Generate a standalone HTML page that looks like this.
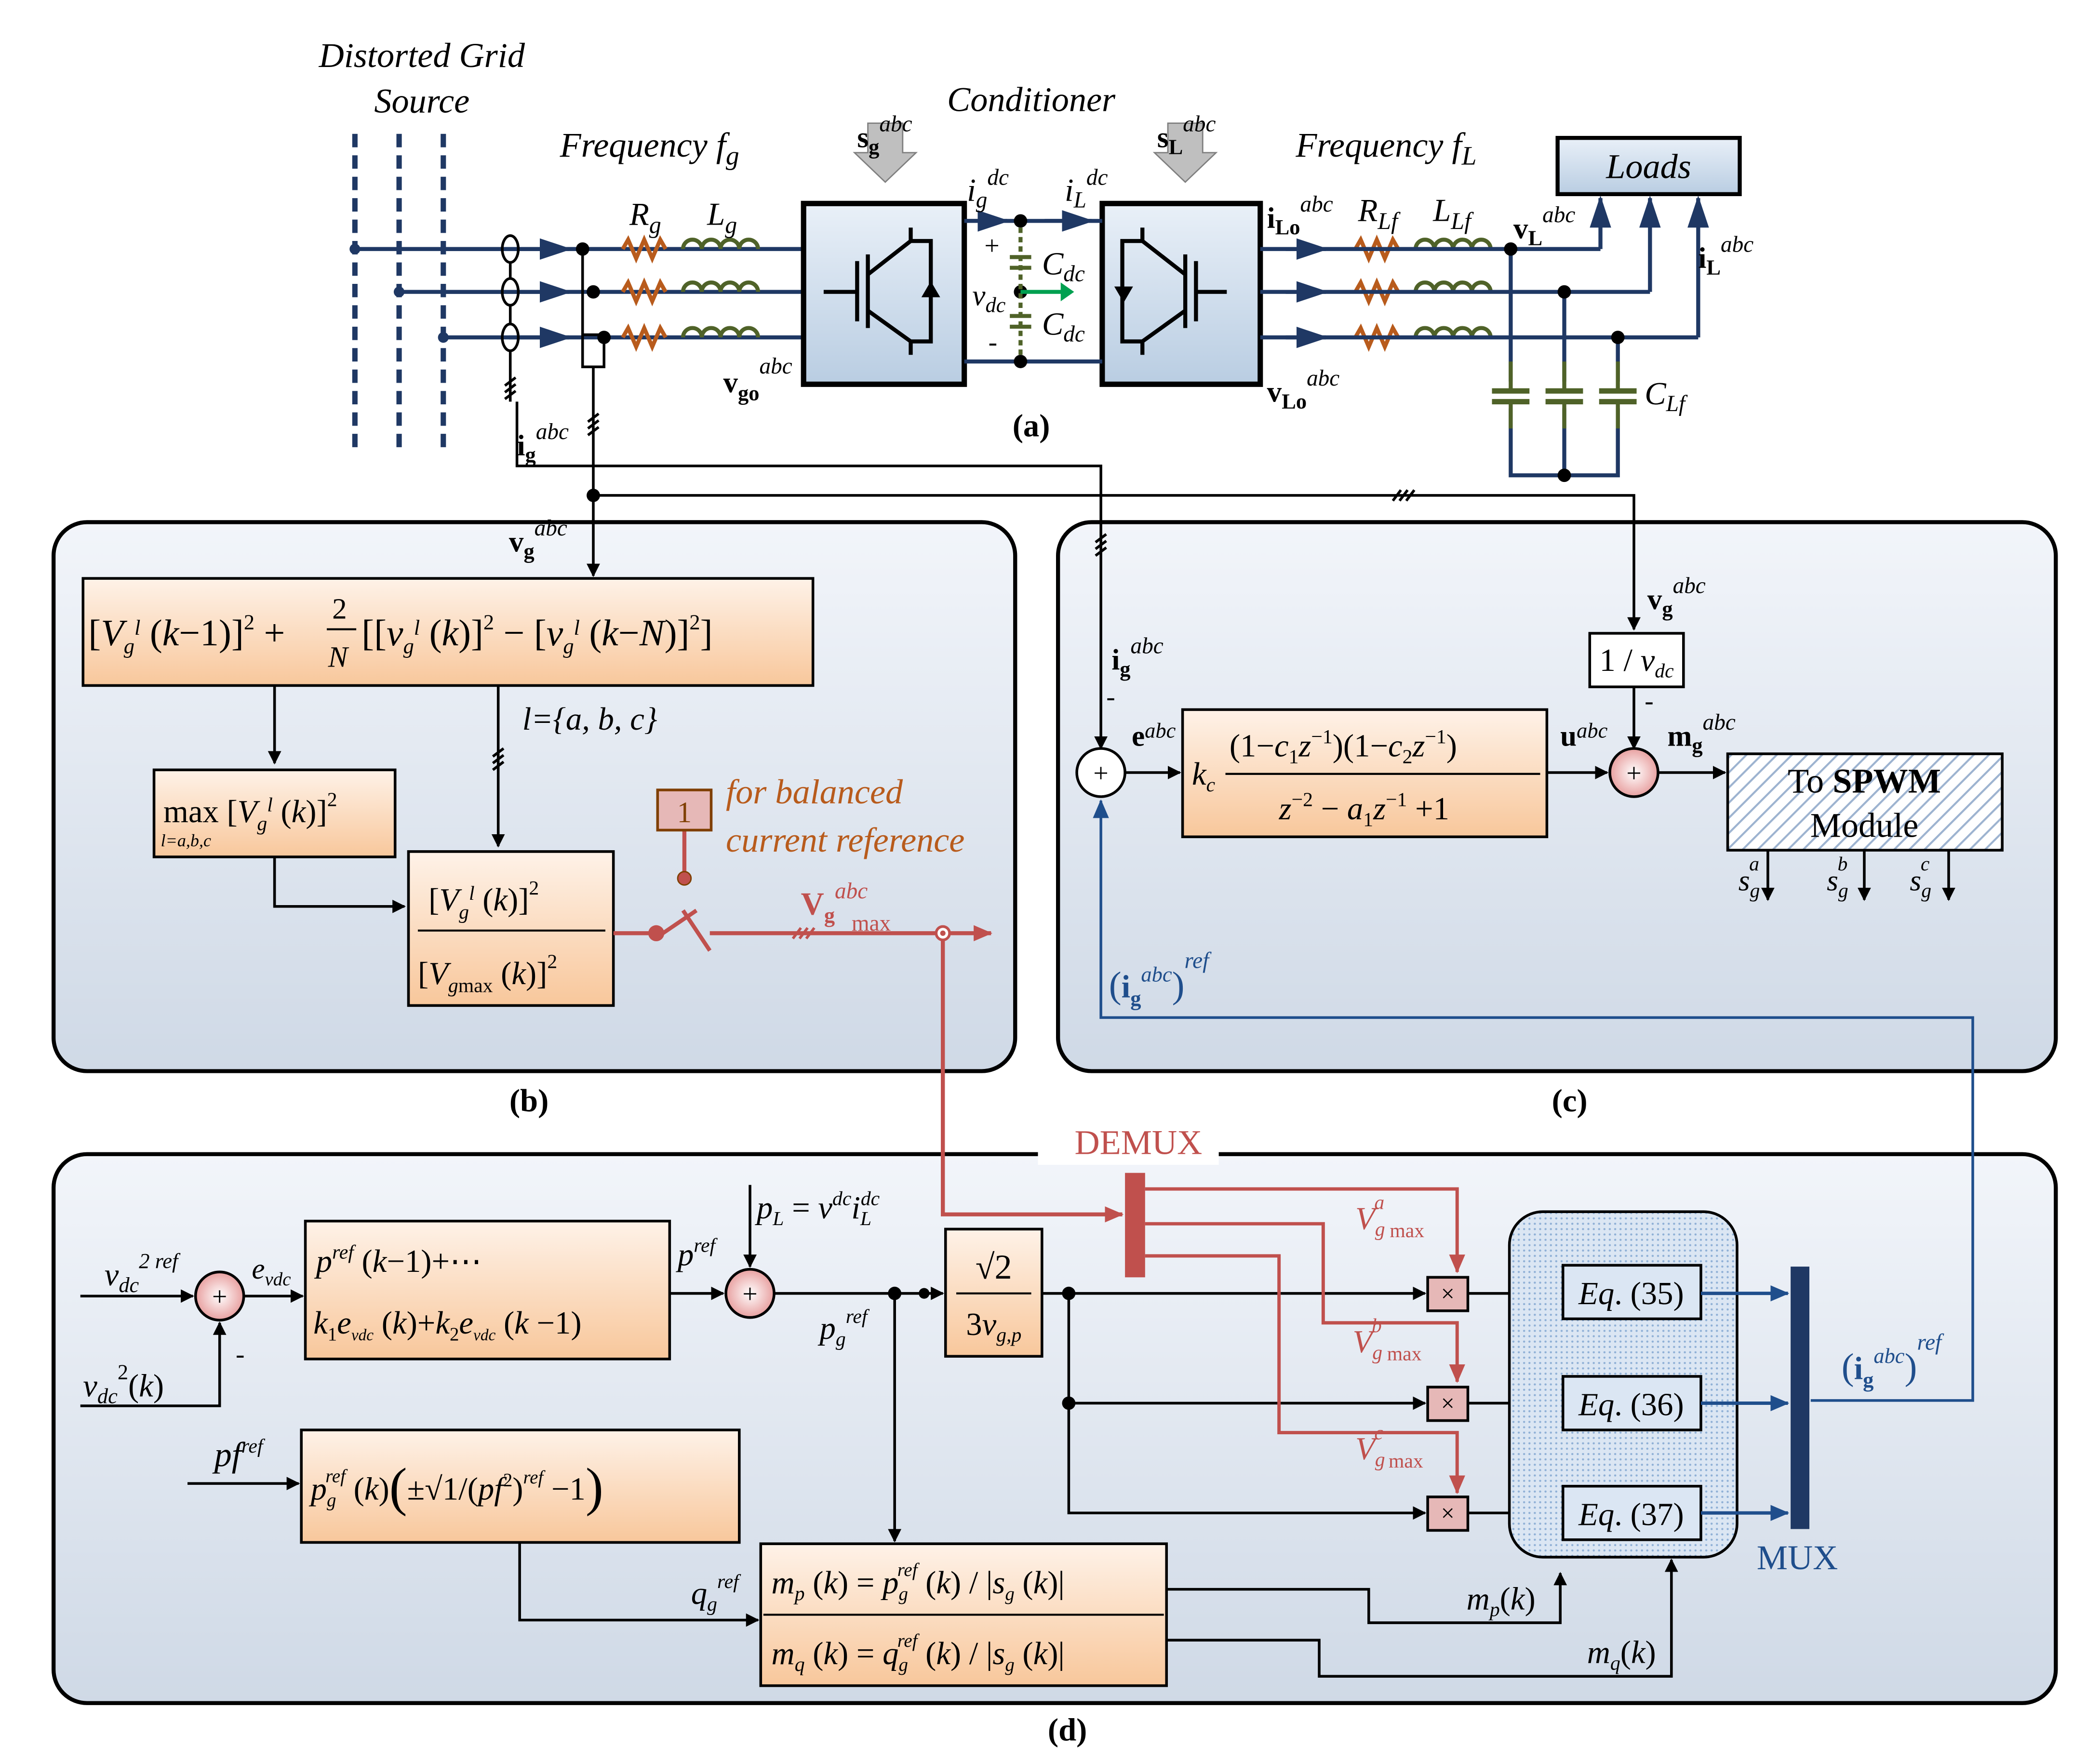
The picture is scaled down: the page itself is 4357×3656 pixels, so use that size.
<!DOCTYPE html>
<html><head><meta charset="utf-8"><style>
html,body{margin:0;padding:0;background:#fff}
svg{display:block}
text{font-family:"Liberation Serif",serif}
.i{font-style:italic}
</style></head><body>
<svg width="4357" height="3656" viewBox="0 0 1568 1316" preserveAspectRatio="none" xmlns="http://www.w3.org/2000/svg">
<defs>
<linearGradient id="pg" x1="0" y1="0" x2="0" y2="1"><stop offset="0" stop-color="#f2f5fa"/><stop offset="1" stop-color="#cfd9e6"/></linearGradient>
<linearGradient id="og" x1="0" y1="0" x2="0" y2="1"><stop offset="0" stop-color="#fef2e8"/><stop offset="1" stop-color="#f8c79b"/></linearGradient>
<linearGradient id="bg" x1="0" y1="0" x2="0" y2="1"><stop offset="0" stop-color="#e9f0f8"/><stop offset="1" stop-color="#b9cde2"/></linearGradient>
<radialGradient id="sg"><stop offset="0" stop-color="#fff"/><stop offset="1" stop-color="#e8a0a0"/></radialGradient>
<pattern id="hatch" width="8" height="8" patternUnits="userSpaceOnUse" patternTransform="rotate(45)"><rect width="8" height="8" fill="#fff"/><line x1="0" y1="0" x2="0" y2="8" stroke="#9db3d0" stroke-width="3"/></pattern>
<pattern id="dots" width="4" height="4" patternUnits="userSpaceOnUse"><rect width="4" height="4" fill="#dbe6f3"/><circle cx="2" cy="2" r="0.8" fill="#8fb0d6"/></pattern>
<marker id="a" markerWidth="10" markerHeight="10" refX="9" refY="5" orient="auto" markerUnits="userSpaceOnUse"><path d="M0,0 L10,5 L0,10z" fill="#000"/></marker>
<marker id="ar" markerWidth="14" markerHeight="12" refX="13" refY="6" orient="auto" markerUnits="userSpaceOnUse"><path d="M0,0 L14,6 L0,12z" fill="#c0504d"/></marker>
<marker id="ab" markerWidth="14" markerHeight="12" refX="13" refY="6" orient="auto" markerUnits="userSpaceOnUse"><path d="M0,0 L14,6 L0,12z" fill="#1f4e8c"/></marker>
<marker id="an" markerWidth="24" markerHeight="16" refX="22" refY="8" orient="auto" markerUnits="userSpaceOnUse"><path d="M0,0 L24,8 L0,16z" fill="#1f3864"/></marker>
</defs>

<rect x="40" y="390" width="718" height="410" rx="25" fill="url(#pg)" stroke="#000" stroke-width="3"/>
<rect x="790" y="390" width="745" height="410" rx="25" fill="url(#pg)" stroke="#000" stroke-width="3"/>
<rect x="40" y="862" width="1495" height="410" rx="25" fill="url(#pg)" stroke="#000" stroke-width="3"/>

<text x="315" y="50" font-size="26" class="i" text-anchor="middle">Distorted Grid</text>
<text x="315" y="84" font-size="26" class="i" text-anchor="middle">Source</text>
<text x="485" y="117" font-size="26" class="i" text-anchor="middle">Frequency f<tspan font-size="20" dy="6">g</tspan></text>
<text x="770" y="83" font-size="26" class="i" text-anchor="middle">Conditioner</text>
<text x="1035" y="117" font-size="26" class="i" text-anchor="middle">Frequency f<tspan font-size="20" dy="6">L</tspan></text>
<text x="770" y="326" font-size="24" font-weight="bold" text-anchor="middle">(a)</text>

<g stroke="#1f3864" stroke-width="4" stroke-dasharray="10,6">
<line x1="265" y1="100" x2="265" y2="340"/><line x1="298" y1="100" x2="298" y2="340"/><line x1="331" y1="100" x2="331" y2="340"/>
</g>
<g stroke="#1f3864" stroke-width="3" fill="none">
<line x1="265" y1="186" x2="600" y2="186"/>
<line x1="298" y1="218" x2="600" y2="218"/>
<line x1="331" y1="252" x2="600" y2="252"/>
<line x1="330" y1="186" x2="425" y2="186" marker-end="url(#an)"/>
<line x1="330" y1="218" x2="425" y2="218" marker-end="url(#an)"/>
<line x1="380" y1="252" x2="425" y2="252" marker-end="url(#an)"/>
</g>
<g fill="#1f3864"><circle cx="265" cy="186" r="4"/><circle cx="298" cy="218" r="4"/><circle cx="331" cy="252" r="4"/></g>
<g fill="none" stroke="#000" stroke-width="2"><ellipse cx="381" cy="186" rx="6" ry="10"/><ellipse cx="381" cy="218" rx="6" ry="10"/><ellipse cx="381" cy="252" rx="6" ry="10"/>
<line x1="381" y1="196" x2="381" y2="208"/><line x1="381" y1="228" x2="381" y2="242"/><line x1="381" y1="262" x2="381" y2="300"/></g>
<g fill="#000"><circle cx="435" cy="186" r="5"/><circle cx="443" cy="218" r="5"/><circle cx="451" cy="252" r="5"/></g>
<rect x="435" y="250" width="16" height="24" fill="none" stroke="#000" stroke-width="2"/>
<line x1="435" y1="186" x2="435" y2="250" stroke="#000" stroke-width="2"/>
<line x1="443" y1="274" x2="443" y2="370" stroke="#000" stroke-width="2"/>
<g fill="none" stroke="#b85b1c" stroke-width="3">
<path d="M465,186 l4,-7 l6,14 l6,-14 l6,14 l6,-14 l4,7"/>
<path d="M465,218 l4,-7 l6,14 l6,-14 l6,14 l6,-14 l4,7"/>
<path d="M465,252 l4,-7 l6,14 l6,-14 l6,14 l6,-14 l4,7"/>
<path d="M1012,186 l4,-7 l6,14 l6,-14 l6,14 l6,-14 l4,7"/>
<path d="M1012,218 l4,-7 l6,14 l6,-14 l6,14 l6,-14 l4,7"/>
<path d="M1012,252 l4,-7 l6,14 l6,-14 l6,14 l6,-14 l4,7"/>
</g>
<g fill="none" stroke="#4f6228" stroke-width="3">
<path d="M510,186 a7,7 0 0 1 14,0 a7,7 0 0 1 14,0 a7,7 0 0 1 14,0 a7,7 0 0 1 14,0"/>
<path d="M510,218 a7,7 0 0 1 14,0 a7,7 0 0 1 14,0 a7,7 0 0 1 14,0 a7,7 0 0 1 14,0"/>
<path d="M510,252 a7,7 0 0 1 14,0 a7,7 0 0 1 14,0 a7,7 0 0 1 14,0 a7,7 0 0 1 14,0"/>
<path d="M1057,186 a7,7 0 0 1 14,0 a7,7 0 0 1 14,0 a7,7 0 0 1 14,0 a7,7 0 0 1 14,0"/>
<path d="M1057,218 a7,7 0 0 1 14,0 a7,7 0 0 1 14,0 a7,7 0 0 1 14,0 a7,7 0 0 1 14,0"/>
<path d="M1057,252 a7,7 0 0 1 14,0 a7,7 0 0 1 14,0 a7,7 0 0 1 14,0 a7,7 0 0 1 14,0"/>
</g>
<text x="470" y="168" font-size="24" class="i">R<tspan font-size="18" dy="6">g</tspan></text>
<text x="528" y="168" font-size="24" class="i">L<tspan font-size="18" dy="6">g</tspan></text>
<text x="1014" y="165" font-size="24" class="i">R<tspan font-size="18" dy="6">Lf</tspan></text>
<text x="1070" y="165" font-size="24" class="i">L<tspan font-size="18" dy="6">Lf</tspan></text>
<text x="540" y="293" font-size="22" font-weight="bold">v<tspan font-size="16" dy="6">go</tspan><tspan font-size="17" font-weight="normal" class="i" dy="-20">abc</tspan></text>
<rect x="600" y="152" width="120" height="135" fill="url(#bg)" stroke="#000" stroke-width="4"/>
<rect x="823" y="152" width="118" height="135" fill="url(#bg)" stroke="#000" stroke-width="4"/>
<g stroke="#000" stroke-width="3" fill="none">
<line x1="615" y1="218" x2="640" y2="218"/><line x1="640" y1="195" x2="640" y2="240"/><line x1="648" y1="190" x2="648" y2="245"/>
<path d="M648,205 L680,180 L680,170 M648,232 L680,255 L680,265 M680,180 L695,180 L695,255 L680,255"/>
<line x1="916" y1="218" x2="893" y2="218"/><line x1="893" y1="195" x2="893" y2="240"/><line x1="885" y1="190" x2="885" y2="245"/>
<path d="M885,205 L853,180 L853,170 M885,232 L853,255 L853,265 M853,180 L838,180 L838,255 L853,255"/>
</g>
<path d="M688,222 L702,222 L695,210z M832,214 L846,214 L839,226z" fill="#000"/>
<path d="M648,92 h26 v22 h10 l-23,22 l-23,-22 h10z" fill="#bfbfbf" stroke="#7f7f7f"/>
<path d="M872,92 h26 v22 h10 l-23,22 l-23,-22 h10z" fill="#bfbfbf" stroke="#7f7f7f"/>
<text x="640" y="110" font-size="22" font-weight="bold">s<tspan font-size="16" dy="5">g</tspan><tspan font-size="17" font-weight="normal" class="i" dy="-17">abc</tspan></text>
<text x="864" y="110" font-size="22" font-weight="bold">s<tspan font-size="16" dy="5">L</tspan><tspan font-size="17" font-weight="normal" class="i" dy="-17">abc</tspan></text>
<g stroke="#1f3864" stroke-width="3">
<line x1="720" y1="165" x2="823" y2="165"/><line x1="720" y1="270" x2="823" y2="270"/>
<line x1="722" y1="165" x2="752" y2="165" marker-end="url(#an)"/><line x1="780" y1="165" x2="815" y2="165" marker-end="url(#an)"/>
</g>
<g fill="#000"><circle cx="762" cy="165" r="5"/><circle cx="762" cy="270" r="5"/><circle cx="762" cy="218" r="5"/></g>
<g stroke="#4f6228" stroke-width="3" stroke-dasharray="4,3"><line x1="762" y1="170" x2="762" y2="265"/></g>
<g stroke="#4f6228" stroke-width="3"><line x1="754" y1="192" x2="770" y2="192"/><line x1="754" y1="200" x2="770" y2="200"/><line x1="754" y1="236" x2="770" y2="236"/><line x1="754" y1="244" x2="770" y2="244"/></g>
<line x1="762" y1="218" x2="795" y2="218" stroke="#00a050" stroke-width="3"/><path d="M792,211 l10,7 l-10,7z" fill="#00a050"/>
<text x="722" y="150" font-size="24" class="i">i<tspan font-size="17" dy="5">g</tspan><tspan font-size="17" dy="-17">dc</tspan></text>
<text x="795" y="150" font-size="24" class="i">i<tspan font-size="17" dy="5">L</tspan><tspan font-size="17" dy="-17">dc</tspan></text>
<text x="735" y="190" font-size="20">+</text><text x="738" y="262" font-size="20">-</text>
<text x="726" y="228" font-size="22" class="i">v<tspan font-size="16" dy="5">dc</tspan></text>
<text x="778" y="205" font-size="24" class="i">C<tspan font-size="17" dy="5">dc</tspan></text>
<text x="778" y="250" font-size="24" class="i">C<tspan font-size="17" dy="5">dc</tspan></text>
<g stroke="#1f3864" stroke-width="3" fill="none">
<line x1="941" y1="186" x2="1195" y2="186"/><line x1="941" y1="218" x2="1232" y2="218"/><line x1="941" y1="252" x2="1268" y2="252"/>
<line x1="960" y1="186" x2="990" y2="186" marker-end="url(#an)"/><line x1="960" y1="218" x2="990" y2="218" marker-end="url(#an)"/><line x1="960" y1="252" x2="990" y2="252" marker-end="url(#an)"/>
<path d="M1195,186 V148" marker-end="url(#an)"/><path d="M1232,218 V148" marker-end="url(#an)"/><path d="M1268,252 V148" marker-end="url(#an)"/>
<line x1="1128" y1="186" x2="1128" y2="285"/><line x1="1168" y1="218" x2="1168" y2="285"/><line x1="1208" y1="252" x2="1208" y2="285"/>
<path d="M1128,305 V355 H1208 V305 M1168,305 V355"/>
</g>
<g fill="#000"><circle cx="1128" cy="186" r="5"/><circle cx="1168" cy="218" r="5"/><circle cx="1208" cy="252" r="5"/><circle cx="1168" cy="355" r="5"/></g>
<g stroke="#4f6228" stroke-width="4"><line x1="1114" y1="292" x2="1142" y2="292"/><line x1="1114" y1="300" x2="1142" y2="300"/><line x1="1154" y1="292" x2="1182" y2="292"/><line x1="1154" y1="300" x2="1182" y2="300"/><line x1="1194" y1="292" x2="1222" y2="292"/><line x1="1194" y1="300" x2="1222" y2="300"/></g>
<g stroke="#4f6228" stroke-width="3"><line x1="1128" y1="270" x2="1128" y2="292"/><line x1="1168" y1="270" x2="1168" y2="292"/><line x1="1208" y1="270" x2="1208" y2="292"/><line x1="1128" y1="300" x2="1128" y2="320"/><line x1="1168" y1="300" x2="1168" y2="320"/><line x1="1208" y1="300" x2="1208" y2="320"/></g>
<text x="1228" y="302" font-size="24" class="i">C<tspan font-size="17" dy="5">Lf</tspan></text>
<rect x="1163" y="103" width="136" height="42" fill="url(#bg)" stroke="#000" stroke-width="3"/>
<text x="1231" y="133" font-size="26" class="i" text-anchor="middle">Loads</text>
<text x="946" y="170" font-size="22" font-weight="bold">i<tspan font-size="16" dy="5">Lo</tspan><tspan font-size="17" font-weight="normal" class="i" dy="-17">abc</tspan></text>
<text x="946" y="300" font-size="22" font-weight="bold">v<tspan font-size="16" dy="5">Lo</tspan><tspan font-size="17" font-weight="normal" class="i" dy="-17">abc</tspan></text>
<text x="1130" y="178" font-size="22" font-weight="bold">v<tspan font-size="16" dy="5">L</tspan><tspan font-size="17" font-weight="normal" class="i" dy="-17">abc</tspan></text>
<text x="1268" y="200" font-size="22" font-weight="bold">i<tspan font-size="16" dy="5">L</tspan><tspan font-size="17" font-weight="normal" class="i" dy="-17">abc</tspan></text>
<text x="386" y="340" font-size="22" font-weight="bold">i<tspan font-size="16" dy="5">g</tspan><tspan font-size="17" font-weight="normal" class="i" dy="-17">abc</tspan></text>

<g stroke="#000" stroke-width="2" fill="none">
<path d="M386,300 V348 H822 V559" marker-end="url(#a)"/>
<path d="M443,370 H1220 V470" marker-end="url(#a)"/>
<path d="M443,370 V430" marker-end="url(#a)"/>
<path d="M1220,513 V559" marker-end="url(#a)"/>
</g>
<circle cx="443" cy="370" r="5"/>
<g stroke="#000" stroke-width="2"><path d="M377,298 l8,-6 M377,293 l8,-6 M377,288 l8,-6"/><path d="M439,325 l8,-6 M439,320 l8,-6 M439,315 l8,-6"/><path d="M818,415 l8,-6 M818,410 l8,-6 M818,405 l8,-6"/><path d="M1040,374 l6,-8 M1045,374 l6,-8 M1050,374 l6,-8"/></g>

<!-- (b) -->
<text x="380" y="412" font-size="22" font-weight="bold">v<tspan font-size="16" dy="5">g</tspan><tspan font-size="17" font-weight="normal" class="i" dy="-17">abc</tspan></text>
<rect x="62" y="432" width="545" height="80" fill="url(#og)" stroke="#000" stroke-width="2"/>
<text x="66" y="482" font-size="28">[<tspan class="i">V</tspan><tspan font-size="16" class="i" dy="6">g</tspan><tspan font-size="16" class="i" dy="-14">l</tspan><tspan dy="8"> (</tspan><tspan class="i">k</tspan>−1)]<tspan font-size="16" dy="-12">2</tspan><tspan dy="12"> +</tspan></text>
<text x="248" y="462" font-size="22">2</text>
<line x1="244" y1="470" x2="266" y2="470" stroke="#000" stroke-width="1.5"/>
<text x="245" y="498" font-size="22" class="i">N</text>
<text x="270" y="482" font-size="28">[[<tspan class="i">v</tspan><tspan font-size="16" class="i" dy="6">g</tspan><tspan font-size="16" class="i" dy="-14">l</tspan><tspan dy="8"> (</tspan><tspan class="i">k</tspan>)]<tspan font-size="16" dy="-12">2</tspan><tspan dy="12"> − [</tspan><tspan class="i">v</tspan><tspan font-size="16" class="i" dy="6">g</tspan><tspan font-size="16" class="i" dy="-14">l</tspan><tspan dy="8"> (</tspan><tspan class="i">k</tspan>−<tspan class="i">N</tspan>)]<tspan font-size="16" dy="-12">2</tspan><tspan dy="12">]</tspan></text>
<g stroke="#000" stroke-width="2" fill="none">
<path d="M205,512 V570" marker-end="url(#a)"/>
<path d="M372,512 V632" marker-end="url(#a)"/>
<path d="M205,640 V677 H302" marker-end="url(#a)"/>
<path d="M368,575 l8,-6 M368,570 l8,-6 M368,565 l8,-6"/>
</g>
<text x="390" y="545" font-size="24" class="i">l={a, b, c}</text>
<rect x="115" y="575" width="180" height="65" fill="url(#og)" stroke="#000" stroke-width="2"/>
<text x="122" y="614" font-size="24">max [<tspan class="i">V</tspan><tspan font-size="15" class="i" dy="6">g</tspan><tspan font-size="15" class="i" dy="-14">l</tspan><tspan dy="8"> (</tspan><tspan class="i">k</tspan>)]<tspan font-size="15" dy="-12">2</tspan></text>
<text x="120" y="632" font-size="13" class="i">l=a,b,c</text>
<rect x="305" y="636" width="153" height="115" fill="url(#og)" stroke="#000" stroke-width="2"/>
<text x="320" y="680" font-size="24">[<tspan class="i">V</tspan><tspan font-size="15" class="i" dy="6">g</tspan><tspan font-size="15" class="i" dy="-14">l</tspan><tspan dy="8"> (</tspan><tspan class="i">k</tspan>)]<tspan font-size="15" dy="-12">2</tspan></text>
<line x1="312" y1="695" x2="452" y2="695" stroke="#000" stroke-width="1.5"/>
<text x="312" y="735" font-size="24">[<tspan class="i">V</tspan><tspan font-size="15" class="i" dy="6">g</tspan><tspan font-size="15" dy="0">max</tspan><tspan dy="-6"> (</tspan><tspan class="i">k</tspan>)]<tspan font-size="15" dy="-12">2</tspan></text>
<g stroke="#c0504d" stroke-width="3" fill="none">
<line x1="458" y1="697" x2="490" y2="697"/>
<path d="M495,697 L520,680 M510,680 L530,710"/>
<line x1="530" y1="697" x2="740" y2="697" marker-end="url(#ar)"/>
<line x1="511" y1="620" x2="511" y2="656"/>
<path d="M704,697 V907 H838" marker-end="url(#ar)"/>
<path d="M592,701 l6,-8 M597,701 l6,-8 M602,701 l6,-8" stroke-width="2"/>
</g>
<circle cx="490" cy="697" r="6" fill="#c0504d"/><circle cx="704" cy="697" r="5" fill="#fff" stroke="#c0504d" stroke-width="2"/><circle cx="704" cy="697" r="2" fill="#c0504d"/>
<circle cx="511" cy="656" r="5" fill="#c0504d" stroke="#7f3f00"/>
<rect x="491" y="590" width="40" height="30" fill="#e6b8b7" stroke="#7f3f00" stroke-width="2"/>
<text x="511" y="614" font-size="22" text-anchor="middle" fill="#7f3f00">1</text>
<text x="542" y="600" font-size="26" class="i" fill="#b85b1c">for balanced</text>
<text x="542" y="636" font-size="26" class="i" fill="#b85b1c">current reference</text>
<text x="598" y="683" font-size="24" font-weight="bold" fill="#c0504d">V<tspan font-size="16" dy="6">g</tspan><tspan font-size="17" font-weight="normal" class="i" dy="-18">abc</tspan><tspan font-size="17" font-weight="normal" dx="-12" dy="24">max</tspan></text>
<text x="395" y="830" font-size="24" font-weight="bold" text-anchor="middle">(b)</text>

<!-- (c) -->
<text x="1230" y="455" font-size="22" font-weight="bold">v<tspan font-size="16" dy="5">g</tspan><tspan font-size="17" font-weight="normal" class="i" dy="-17">abc</tspan></text>
<rect x="1187" y="473" width="70" height="40" fill="#fff" stroke="#000" stroke-width="2"/>
<text x="1222" y="501" font-size="24" text-anchor="middle">1 / <tspan class="i">v</tspan><tspan font-size="15" class="i" dy="5">dc</tspan></text>
<text x="830" y="500" font-size="22" font-weight="bold">i<tspan font-size="16" dy="5">g</tspan><tspan font-size="17" font-weight="normal" class="i" dy="-17">abc</tspan></text>
<text x="826" y="527" font-size="20">-</text><text x="1228" y="530" font-size="20">-</text>
<circle cx="822" cy="577" r="18" fill="#fff" stroke="#000" stroke-width="2"/><text x="822" y="584" font-size="20" text-anchor="middle">+</text>
<text x="845" y="557" font-size="22" font-weight="bold">e<tspan font-size="16" font-weight="normal" class="i" dy="-6">abc</tspan></text>
<line x1="840" y1="577" x2="881" y2="577" stroke="#000" stroke-width="2" marker-end="url(#a)"/>
<rect x="883" y="530" width="272" height="95" fill="url(#og)" stroke="#000" stroke-width="2"/>
<text x="890" y="586" font-size="24" class="i">k<tspan font-size="15" dy="5">c</tspan></text>
<text x="918" y="565" font-size="24">(1−<tspan class="i">c</tspan><tspan font-size="15" dy="5">1</tspan><tspan class="i" dy="-5">z</tspan><tspan font-size="15" dy="-10">−1</tspan><tspan dy="10">)(1−</tspan><tspan class="i">c</tspan><tspan font-size="15" dy="5">2</tspan><tspan class="i" dy="-5">z</tspan><tspan font-size="15" dy="-10">−1</tspan><tspan dy="10">)</tspan></text>
<line x1="915" y1="578" x2="1150" y2="578" stroke="#000" stroke-width="1.5"/>
<text x="955" y="612" font-size="24" class="i">z<tspan font-size="15" dy="-10" font-style="normal">−2</tspan><tspan dy="10" font-style="normal"> − </tspan>a<tspan font-size="15" dy="5" font-style="normal">1</tspan><tspan dy="-5">z</tspan><tspan font-size="15" dy="-10" font-style="normal">−1</tspan><tspan dy="10" font-style="normal"> +1</tspan></text>
<line x1="1155" y1="577" x2="1200" y2="577" stroke="#000" stroke-width="2" marker-end="url(#a)"/>
<text x="1165" y="557" font-size="22" font-weight="bold">u<tspan font-size="16" font-weight="normal" class="i" dy="-6">abc</tspan></text>
<circle cx="1220" cy="577" r="18" fill="url(#sg)" stroke="#000" stroke-width="2"/><text x="1220" y="584" font-size="20" text-anchor="middle">+</text>
<line x1="1238" y1="577" x2="1288" y2="577" stroke="#000" stroke-width="2" marker-end="url(#a)"/>
<text x="1245" y="557" font-size="22" font-weight="bold">m<tspan font-size="16" dy="5">g</tspan><tspan font-size="17" font-weight="normal" class="i" dy="-17">abc</tspan></text>
<rect x="1290" y="563" width="205" height="72" fill="url(#hatch)" stroke="#000" stroke-width="2"/>
<text x="1392" y="592" font-size="26" text-anchor="middle">To <tspan font-weight="bold">SPWM</tspan></text>
<text x="1392" y="625" font-size="26" text-anchor="middle">Module</text>
<g stroke="#000" stroke-width="2"><line x1="1320" y1="635" x2="1320" y2="672" marker-end="url(#a)"/><line x1="1392" y1="635" x2="1392" y2="672" marker-end="url(#a)"/><line x1="1455" y1="635" x2="1455" y2="672" marker-end="url(#a)"/></g>
<text x="1298" y="665" font-size="22" class="i">s<tspan font-size="15" dy="5">g</tspan><tspan font-size="15" dx="-8" dy="-20">a</tspan></text>
<text x="1364" y="665" font-size="22" class="i">s<tspan font-size="15" dy="5">g</tspan><tspan font-size="15" dx="-8" dy="-20">b</tspan></text>
<text x="1426" y="665" font-size="22" class="i">s<tspan font-size="15" dy="5">g</tspan><tspan font-size="15" dx="-8" dy="-20">c</tspan></text>
<path d="M1352,1046 H1473 V760 H822 V598" fill="none" stroke="#1f4e8c" stroke-width="2" marker-end="url(#ab)"/>
<text x="828" y="745" font-size="28" fill="#1f4e8c">(<tspan font-weight="bold" font-size="24">i</tspan><tspan font-size="16" font-weight="bold" dy="6">g</tspan><tspan font-size="16" class="i" dy="-18">abc</tspan><tspan dy="12">)</tspan><tspan font-size="17" class="i" dy="-22">ref</tspan></text>
<text x="1172" y="830" font-size="24" font-weight="bold" text-anchor="middle">(c)</text>

<!-- (d) -->
<rect x="775" y="840" width="135" height="30" fill="#fff"/>
<text x="850" y="862" font-size="26" fill="#c0504d" text-anchor="middle">DEMUX</text>
<text x="78" y="960" font-size="24" class="i">v<tspan font-size="16" dy="5">dc</tspan><tspan font-size="16" dy="-18">2 ref</tspan></text>
<line x1="60" y1="968" x2="144" y2="968" stroke="#000" stroke-width="2" marker-end="url(#a)"/>
<circle cx="164" cy="968" r="18" fill="url(#sg)" stroke="#000" stroke-width="2"/><text x="164" y="975" font-size="20" text-anchor="middle">+</text>
<path d="M60,1050 H164 V988" fill="none" stroke="#000" stroke-width="2" marker-end="url(#a)"/>
<text x="62" y="1043" font-size="24" class="i">v<tspan font-size="16" dy="5">dc</tspan><tspan font-size="16" dy="-18" font-style="normal">2</tspan><tspan dy="13" font-style="normal">(</tspan>k<tspan font-style="normal">)</tspan></text>
<text x="176" y="1018" font-size="20">-</text>
<text x="188" y="955" font-size="22" class="i">e<tspan font-size="14" dy="5">vdc</tspan></text>
<line x1="182" y1="968" x2="226" y2="968" stroke="#000" stroke-width="2" marker-end="url(#a)"/>
<rect x="228" y="912" width="272" height="103" fill="url(#og)" stroke="#000" stroke-width="2"/>
<text x="236" y="950" font-size="24" class="i">p<tspan font-size="15" dy="-10">ref</tspan><tspan dy="10" font-style="normal"> (</tspan>k<tspan font-style="normal">−1)+⋯</tspan></text>
<text x="234" y="996" font-size="24" class="i">k<tspan font-size="14" dy="5" font-style="normal">1</tspan><tspan dy="-5">e</tspan><tspan font-size="12" dy="5">vdc</tspan><tspan dy="-5" font-style="normal"> (</tspan>k<tspan font-style="normal">)+</tspan>k<tspan font-size="14" dy="5" font-style="normal">2</tspan><tspan dy="-5">e</tspan><tspan font-size="12" dy="5">vdc</tspan><tspan dy="-5" font-style="normal"> (</tspan>k<tspan font-style="normal"> −1)</tspan></text>
<line x1="500" y1="966" x2="540" y2="966" stroke="#000" stroke-width="2" marker-end="url(#a)"/>
<text x="506" y="945" font-size="24" class="i">p<tspan font-size="15" dy="-10">ref</tspan></text>
<circle cx="560" cy="966" r="18" fill="url(#sg)" stroke="#000" stroke-width="2"/><text x="560" y="973" font-size="20" text-anchor="middle">+</text>
<line x1="560" y1="885" x2="560" y2="946" stroke="#000" stroke-width="2" marker-end="url(#a)"/>
<text x="565" y="910" font-size="24" class="i">p<tspan font-size="15" dy="5">L</tspan><tspan dy="-5" font-style="normal"> = </tspan>v<tspan font-size="15" dy="-10">dc</tspan><tspan dy="10">i</tspan><tspan font-size="15" dy="5">L</tspan><tspan font-size="15" dx="-8" dy="-15">dc</tspan></text>
<line x1="578" y1="966" x2="704" y2="966" stroke="#000" stroke-width="2" marker-end="url(#a)"/>
<circle cx="668" cy="966" r="5"/><circle cx="690" cy="966" r="4"/>
<text x="612" y="1000" font-size="24" class="i">p<tspan font-size="15" dy="5">g</tspan><tspan font-size="15" dy="-17">ref</tspan></text>
<line x1="668" y1="966" x2="668" y2="1151" stroke="#000" stroke-width="2" marker-end="url(#a)"/>
<rect x="706" y="918" width="72" height="95" fill="url(#og)" stroke="#000" stroke-width="2"/>
<text x="742" y="955" font-size="26" text-anchor="middle">√2</text>
<line x1="714" y1="966" x2="770" y2="966" stroke="#000" stroke-width="1.5"/>
<text x="742" y="997" font-size="24" text-anchor="middle">3<tspan class="i">v</tspan><tspan font-size="15" class="i" dy="5">g,p</tspan></text>
<g stroke="#000" stroke-width="2" fill="none">
<line x1="778" y1="966" x2="1064" y2="966" marker-end="url(#a)"/>
<path d="M798,966 V1130 H1064" marker-end="url(#a)"/>
<line x1="798" y1="1048" x2="1064" y2="1048" marker-end="url(#a)"/>
<line x1="1096" y1="966" x2="1165" y2="966" marker-end="url(#a)"/>
<line x1="1096" y1="1048" x2="1165" y2="1048" marker-end="url(#a)"/>
<line x1="1096" y1="1130" x2="1165" y2="1130" marker-end="url(#a)"/>
</g>
<circle cx="798" cy="966" r="5"/><circle cx="798" cy="1048" r="5"/>
<rect x="840" y="876" width="15" height="78" fill="#c0504d"/>
<g stroke="#c0504d" stroke-width="2.5" fill="none">
<path d="M855,888 H1088 V950" marker-end="url(#ar)"/>
<path d="M855,914 H988 V988 H1088 V1032" marker-end="url(#ar)"/>
<path d="M855,938 H955 V1070 H1088 V1115" marker-end="url(#ar)"/>
</g>
<text x="1012" y="918" font-size="24" class="i" fill="#c0504d">V<tspan font-size="15" dy="5">g</tspan><tspan font-size="15" dx="-8" dy="-20">a</tspan><tspan font-size="15" font-style="normal" dx="4" dy="21">max</tspan></text>
<text x="1010" y="1010" font-size="24" class="i" fill="#c0504d">V<tspan font-size="15" dy="5">g</tspan><tspan font-size="15" dx="-8" dy="-20">b</tspan><tspan font-size="15" font-style="normal" dx="4" dy="21">max</tspan></text>
<text x="1012" y="1090" font-size="24" class="i" fill="#c0504d">V<tspan font-size="15" dy="5">g</tspan><tspan font-size="15" dx="-8" dy="-20">c</tspan><tspan font-size="15" font-style="normal" dx="4" dy="21">max</tspan></text>
<g fill="#e6b8b7" stroke="#000" stroke-width="2"><rect x="1066" y="954" width="30" height="25"/><rect x="1066" y="1036" width="30" height="25"/><rect x="1066" y="1118" width="30" height="25"/></g>
<g font-size="18" text-anchor="middle"><text x="1081" y="972">×</text><text x="1081" y="1054">×</text><text x="1081" y="1136">×</text></g>
<rect x="1127" y="905" width="170" height="258" rx="25" fill="url(#dots)" stroke="#000" stroke-width="2"/>
<g fill="#dbe6f3" stroke="#000" stroke-width="2"><rect x="1167" y="945" width="103" height="40"/><rect x="1167" y="1028" width="103" height="40"/><rect x="1167" y="1110" width="103" height="40"/></g>
<g font-size="24" text-anchor="middle"><text x="1218" y="974"><tspan class="i">Eq</tspan>. (35)</text><text x="1218" y="1057"><tspan class="i">Eq</tspan>. (36)</text><text x="1218" y="1139"><tspan class="i">Eq</tspan>. (37)</text></g>
<g stroke="#1f4e8c" stroke-width="2.5"><line x1="1270" y1="966" x2="1335" y2="966" marker-end="url(#ab)"/><line x1="1270" y1="1048" x2="1335" y2="1048" marker-end="url(#ab)"/><line x1="1270" y1="1130" x2="1335" y2="1130" marker-end="url(#ab)"/></g>
<rect x="1337" y="946" width="14" height="196" fill="#1f3864"/>
<text x="1342" y="1172" font-size="26" fill="#1f4e8c" text-anchor="middle">MUX</text>
<text x="1375" y="1030" font-size="28" fill="#1f4e8c">(<tspan font-weight="bold" font-size="24">i</tspan><tspan font-size="16" font-weight="bold" dy="6">g</tspan><tspan font-size="16" class="i" dy="-18">abc</tspan><tspan dy="12">)</tspan><tspan font-size="17" class="i" dy="-22">ref</tspan></text>
<text x="160" y="1095" font-size="26" class="i">pf<tspan font-size="15" dy="-10">ref</tspan></text>
<line x1="140" y1="1108" x2="223" y2="1108" stroke="#000" stroke-width="2" marker-end="url(#a)"/>
<rect x="225" y="1068" width="327" height="84" fill="url(#og)" stroke="#000" stroke-width="2"/>
<text x="232" y="1120" font-size="24" class="i">p<tspan font-size="14" dy="5">g</tspan><tspan font-size="14" dx="-8" dy="-18">ref</tspan><tspan dy="13" font-style="normal"> (</tspan>k<tspan font-style="normal">)</tspan><tspan font-size="40" font-style="normal" dy="4">(</tspan><tspan font-style="normal" dy="-4">±√1/(</tspan>pf<tspan font-size="14" font-style="normal" dy="-10">2</tspan><tspan font-style="normal" dy="10">)</tspan><tspan font-size="14" dy="-12">ref</tspan><tspan font-style="normal" dy="12"> −1</tspan><tspan font-size="40" font-style="normal" dy="4">)</tspan></text>
<path d="M388,1152 V1210 H566" fill="none" stroke="#000" stroke-width="2" marker-end="url(#a)"/>
<text x="516" y="1198" font-size="24" class="i">q<tspan font-size="15" dy="5">g</tspan><tspan font-size="15" dy="-17">ref</tspan></text>
<rect x="568" y="1153" width="303" height="106" fill="url(#og)" stroke="#000" stroke-width="2"/>
<text x="576" y="1190" font-size="24" class="i">m<tspan font-size="15" dy="5">p</tspan><tspan dy="-5" font-style="normal"> (</tspan>k<tspan font-style="normal">) = </tspan>p<tspan font-size="14" dy="5">g</tspan><tspan font-size="14" dx="-8" dy="-18">ref</tspan><tspan dy="13" font-style="normal"> (</tspan>k<tspan font-style="normal">) / |</tspan>s<tspan font-size="14" dy="5">g</tspan><tspan dy="-5" font-style="normal"> (</tspan>k<tspan font-style="normal">)|</tspan></text>
<line x1="570" y1="1206" x2="869" y2="1206" stroke="#000" stroke-width="1.5"/>
<text x="576" y="1243" font-size="24" class="i">m<tspan font-size="15" dy="5">q</tspan><tspan dy="-5" font-style="normal"> (</tspan>k<tspan font-style="normal">) = </tspan>q<tspan font-size="14" dy="5">g</tspan><tspan font-size="14" dx="-8" dy="-18">ref</tspan><tspan dy="13" font-style="normal"> (</tspan>k<tspan font-style="normal">) / |</tspan>s<tspan font-size="14" dy="5">g</tspan><tspan dy="-5" font-style="normal"> (</tspan>k<tspan font-style="normal">)|</tspan></text>
<g stroke="#000" stroke-width="2" fill="none">
<path d="M871,1187 H1022 V1212 H1165 V1175" marker-end="url(#a)"/>
<path d="M871,1225 H985 V1252 H1248 V1165" marker-end="url(#a)"/>
</g>
<text x="1095" y="1202" font-size="24" class="i">m<tspan font-size="15" dy="5">p</tspan><tspan dy="-5" font-style="normal">(</tspan>k<tspan font-style="normal">)</tspan></text>
<text x="1185" y="1242" font-size="24" class="i">m<tspan font-size="15" dy="5">q</tspan><tspan dy="-5" font-style="normal">(</tspan>k<tspan font-style="normal">)</tspan></text>
<text x="797" y="1300" font-size="24" font-weight="bold" text-anchor="middle">(d)</text>
</svg>
</body></html>
